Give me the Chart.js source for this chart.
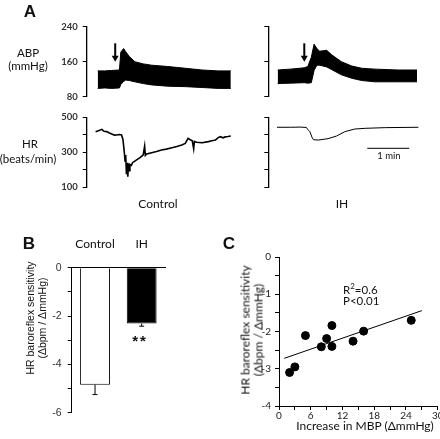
<!DOCTYPE html>
<html>
<head>
<meta charset="utf-8">
<script src="https://cdn.jsdelivr.net/npm/chart.js@4"></script>
<style>
html, body { margin: 0; padding: 0; width: 440px; height: 439px; overflow: hidden; background: #fff; }
body { position: relative; font-family: Lato, "Open Sans", sans-serif; color: #111; }
canvas { position: absolute; }
.t { position: absolute; white-space: nowrap; transform: translate(-50%, -50%); line-height: 1; font-size: 11.5px; }
.l { position: absolute; white-space: nowrap; transform: translateY(-50%); line-height: 1; font-size: 11.5px; }
.letter { font-family: "Liberation Sans", Arial, sans-serif; font-weight: bold; font-size: 17px; }
.rot { transform: translate(-50%, -50%) rotate(-90deg); text-align: center; }
</style>
</head>
<body>
<canvas id="abpCtrl" width="240" height="100" style="left:0;top:10px"></canvas>
<canvas id="abpIh" width="190" height="100" style="left:250px;top:10px"></canvas>
<canvas id="hrCtrl" width="240" height="95" style="left:0;top:105px"></canvas>
<canvas id="hrIh" width="190" height="95" style="left:250px;top:105px"></canvas>
<canvas id="barChart" width="175" height="195" style="left:0;top:230px"></canvas>
<canvas id="scatterChart" width="230" height="190" style="left:230px;top:240px"></canvas>

<div class="t letter" style="left:30px;top:11px">A</div>
<div class="t" style="left:28px;top:53px">ABP</div>
<div class="t" style="left:28px;top:66px">(mmHg)</div>
<div class="t" style="left:30px;top:144px">HR</div>
<div class="t" style="left:28px;top:159px">(beats/min)</div>
<div class="t" style="left:158px;top:204px;font-size:12px">Control</div>
<div class="t" style="left:342px;top:204px;font-size:12px">IH</div>
<div class="t" style="left:389px;top:156px;font-size:9.5px">1 min</div>

<div class="t letter" style="left:29px;top:243px">B</div>
<div class="t rot" style="left:36px;top:318px;font-family:'Liberation Sans',Arial,sans-serif;font-size:10.5px;line-height:12px">HR baroreflex sensitivity<br>(Δbpm / ΔmmHg)</div>
<div class="t" style="left:140px;top:340px;font-family:'Liberation Sans',Arial,sans-serif;font-weight:bold;font-size:15px;letter-spacing:2px">**</div>

<div class="t letter" style="left:229px;top:243px">C</div>
<div class="t rot" style="left:252px;top:330px;font-size:12px;line-height:12.5px">HR baroreflex sensitivity<br>(Δbpm / ΔmmHg)</div>
<div class="t" style="left:365px;top:426px;font-size:12px">Increase in MBP (ΔmmHg)</div>
<div class="l" style="left:343px;top:289px">R<sup style="font-size:8px">2</sup>=0.6</div>
<div class="l" style="left:343px;top:301px">P&lt;0.01</div>

<script>
// ---- Panel A: ABP envelopes (mmHg) vs time (s) ----
const abpCtrlTime = [0, 10, 20, 31, 33, 37, 40, 45, 53, 65, 77, 100, 125, 149, 172, 190];
const abpCtrlUpper = [139, 139, 140, 141, 182, 190, 183, 172, 160, 155, 152, 149, 145, 141, 139, 139];
const abpCtrlLower = [99, 100, 99, 100, 108, 115, 118, 117, 114, 110, 107, 104, 103, 101, 99, 99];

const abpIhTime = [0, 18, 38, 43, 48, 52, 56, 60, 70, 77, 91, 106, 120, 139, 172, 199];
const abpIhUpper = [141, 143, 146, 149, 170, 200, 190, 184, 186, 176, 160, 150, 145, 143, 141, 141];
const abpIhLower = [110, 111, 112, 111, 112, 140, 152, 152, 148, 142, 130, 122, 117, 114, 114, 114];

// ---- Panel A: HR traces (beats/min) vs time (s) ----
const hrCtrlTime = [-3, 2, 6, 9, 13, 16, 20, 24, 27, 31, 34, 36, 38, 39, 40, 41, 42, 43, 44, 45,
    46, 48, 50, 53, 56, 60, 65, 67, 68, 70, 77, 84, 91, 98, 106, 113, 120, 125, 129, 132,
    135, 137, 138, 141, 149, 158, 163, 168, 172, 175, 179, 182, 186, 190];
const hrCtrlBpm = [418, 425, 431, 420, 418, 412, 405, 398, 399, 402, 399, 375, 300, 250, 285, 175, 240, 161, 235, 195,
    230, 225, 242, 250, 258, 268, 285, 335, 282, 290, 298, 305, 313, 318, 326, 333, 342, 351, 380, 372,
    366, 320, 362, 357, 355, 361, 366, 370, 384, 389, 383, 388, 390, 393];

const hrIhTime = [-1, 18, 32, 41, 43, 46, 49, 51, 58, 72, 84, 96, 110, 125, 154, 201];
const hrIhBpm = [443, 443, 444, 442, 430, 418, 386, 372, 370, 378, 393, 418, 433, 437, 441, 443];

// injection arrows [time, from mmHg, to mmHg]
const arrowCtrl = [25, 202, 160];
const arrowIh = [38, 202, 160];
// 1 min scale bar [start s, end s, bpm level]
const scaleBar = [128, 188, 323];

const abpTicks = [80, 160, 240];
const hrTicks = [100, 200, 300, 400, 500];
const hrLabelled = [100, 300, 500];

// ---- Panel B ----
const groups = ["Control", "IH"];
const bsMean = [-4.84, -2.31];
const bsSem = [0.41, 0.11];

// ---- Panel C ----
const mbpIncrease = [2, 3, 5, 8, 9, 10, 10, 14, 16, 25];
const bsIndividual = [-3.10, -2.95, -2.11, -2.41, -2.19, -1.84, -2.40, -2.26, -1.99, -1.70];
const fitX = [1, 27];
const fitY = [-2.72, -1.44];

const pts = (xs, ys) => xs.map((x, i) => ({ x: x, y: ys[i] }));
const tickFont = { family: "Lato", size: 9.5, weight: "bold" };

const arrowPlugin = {
    id: "arrowMark",
    afterDatasetsDraw(chart, args, opts) {
        if (!opts || !opts.at) return;
        const c = chart.ctx;
        const px = chart.scales.x.getPixelForValue(opts.at[0]);
        const y0 = chart.scales.y.getPixelForValue(opts.at[1]);
        const y1 = chart.scales.y.getPixelForValue(opts.at[2]);
        c.save();
        c.strokeStyle = "#000";
        c.fillStyle = "#000";
        c.lineWidth = 2;
        c.beginPath();
        c.moveTo(px, y0);
        c.lineTo(px, y1 - 5);
        c.stroke();
        c.beginPath();
        c.moveTo(px - 3.5, y1 - 6);
        c.lineTo(px + 3.5, y1 - 6);
        c.lineTo(px, y1);
        c.closePath();
        c.fill();
        c.restore();
    }
};

// one trace panel with a fixed plot area
function traceChart(id, datasets, o) {
    return new Chart(document.getElementById(id), {
        type: "line",
        data: { datasets: datasets },
        plugins: [arrowPlugin],
        options: {
            responsive: false,
            animation: false,
            devicePixelRatio: 1,
            layout: { padding: o.pad },
            elements: { point: { radius: 0 }, line: { tension: 0 } },
            plugins: { legend: { display: false }, tooltip: { enabled: false }, arrowMark: { at: o.arrow } },
            scales: {
                x: { type: "linear", display: false, min: o.xMin, max: o.xMax },
                y: {
                    min: o.yMin,
                    max: o.yMax,
                    afterFit: (s) => { s.width = o.yWidth; },
                    afterBuildTicks: (s) => { s.ticks = o.ticks.map((v) => ({ value: v })); },
                    grid: { drawOnChartArea: false, tickLength: 4, color: "#000", lineWidth: 1 },
                    border: { display: true, color: "#000", width: 1.3 },
                    ticks: {
                        font: tickFont,
                        color: "#333",
                        padding: 5,
                        callback: (v) => (o.labels && o.labels.includes(v) ? String(v) : "")
                    }
                }
            }
        }
    });
}

const band = (time, upper, lower) => [
    { data: pts(time, upper), borderColor: "#000", borderWidth: 1, fill: false },
    { data: pts(time, lower), borderColor: "#000", borderWidth: 1, backgroundColor: "#000", fill: "-1" }
];

traceChart("abpCtrl", band(abpCtrlTime, abpCtrlUpper, abpCtrlLower), {
    pad: { left: 0, top: 16.7, right: 5, bottom: 13.3 }, yWidth: 86.7,
    xMin: -15.7, xMax: 196, yMin: 80, yMax: 240, ticks: abpTicks, labels: abpTicks, arrow: arrowCtrl
});
traceChart("abpIh", band(abpIhTime, abpIhUpper, abpIhLower), {
    pad: { left: 0, top: 16.7, right: 15, bottom: 13.3 }, yWidth: 18.3,
    xMin: -13.4, xMax: 210.4, yMin: 80, yMax: 240, ticks: abpTicks, labels: null, arrow: arrowIh
});
traceChart("hrCtrl", [
    { data: pts(hrCtrlTime, hrCtrlBpm), borderColor: "#000", borderWidth: 1.6, fill: false }
], {
    pad: { left: 0, top: 12.3, right: 5, bottom: 12.7 }, yWidth: 86.7,
    xMin: -15.7, xMax: 196, yMin: 100, yMax: 500, ticks: hrTicks, labels: hrLabelled
});
traceChart("hrIh", [
    { data: pts(hrIhTime, hrIhBpm), borderColor: "#000", borderWidth: 1, fill: false },
    { data: [{ x: scaleBar[0], y: scaleBar[2] }, { x: scaleBar[1], y: scaleBar[2] }], borderColor: "#333", borderWidth: 1.2, fill: false }
], {
    pad: { left: 0, top: 12.3, right: 15, bottom: 12.7 }, yWidth: 18.3,
    xMin: -13.4, xMax: 210.4, yMin: 100, yMax: 500, ticks: hrTicks, labels: null
});

// Panel B: bars with SEM (downwards)
const errorBars = {
    id: "errorBars",
    afterDatasetsDraw(chart) {
        const meta = chart.getDatasetMeta(0);
        const ys = chart.scales.y;
        const c = chart.ctx;
        c.save();
        c.strokeStyle = "#000";
        c.lineWidth = 1;
        meta.data.forEach((bar, i) => {
            const yStart = ys.getPixelForValue(bsMean[i]);
            const yEnd = ys.getPixelForValue(bsMean[i] - bsSem[i]);
            c.beginPath();
            c.moveTo(bar.x, yStart);
            c.lineTo(bar.x, yEnd);
            c.moveTo(bar.x - 2.5, yEnd);
            c.lineTo(bar.x + 2.5, yEnd);
            c.stroke();
        });
        c.restore();
    }
};

new Chart(document.getElementById("barChart"), {
    type: "bar",
    data: {
        labels: groups,
        datasets: [{
            data: bsMean,
            backgroundColor: ["#fff", "#000"],
            borderColor: "#000",
            borderWidth: 1,
            barPercentage: 0.64,
            categoryPercentage: 1
        }]
    },
    plugins: [errorBars],
    options: {
        responsive: false,
        animation: false,
        devicePixelRatio: 1,
        layout: { padding: { left: 0, top: 7.7, right: 10, bottom: 11.7 } },
        plugins: { legend: { display: false }, tooltip: { enabled: false } },
        scales: {
            x: {
                position: "top",
                afterFit: (s) => { s.height = 30; },
                grid: { display: false, drawTicks: false },
                border: { display: true, color: "#000", width: 1 },
                ticks: { font: { family: "Lato", size: 12 }, color: "#111", padding: 16 }
            },
            y: {
                min: -6,
                max: 0,
                afterFit: (s) => { s.width = 71.7; },
                afterBuildTicks: (s) => { s.ticks = [-6, -5, -4, -3, -2, -1, 0].map((v) => ({ value: v })); },
                grid: { drawOnChartArea: false, tickLength: 4, color: "#000" },
                border: { display: true, color: "#000", width: 1 },
                ticks: {
                    font: { family: "Liberation Sans", size: 10.5 },
                    color: "#333",
                    padding: 6,
                    callback: (v) => (v % 2 === 0 ? String(v) : "")
                }
            }
        }
    }
});

// Panel C: scatter with regression line
new Chart(document.getElementById("scatterChart"), {
    type: "scatter",
    data: {
        datasets: [
            { data: pts(mbpIncrease, bsIndividual), pointRadius: 4, backgroundColor: "#000", borderColor: "#000" },
            { data: pts(fitX, fitY), showLine: true, pointRadius: 0, borderColor: "#000", borderWidth: 1 }
        ]
    },
    options: {
        responsive: false,
        animation: false,
        devicePixelRatio: 1,
        layout: { padding: { left: 0, top: 17, right: 22.3, bottom: 4 } },
        plugins: { legend: { display: false }, tooltip: { enabled: false } },
        scales: {
            x: {
                type: "linear",
                min: 0,
                max: 30,
                afterFit: (s) => { s.height = 20; },
                afterBuildTicks: (s) => { s.ticks = [0, 3, 6, 9, 12, 15, 18, 21, 24, 27, 30].map((v) => ({ value: v })); },
                grid: { drawOnChartArea: false, tickLength: 4, color: "#000" },
                border: { display: true, color: "#000", width: 1 },
                ticks: {
                    font: { family: "Lato", size: 10 },
                    color: "#222",
                    padding: 0,
                    maxRotation: 0,
                    autoSkip: false,
                    callback: (v) => (v % 6 === 0 ? String(v) : "")
                }
            },
            y: {
                min: -4,
                max: 0,
                afterFit: (s) => { s.width = 49; },
                afterBuildTicks: (s) => { s.ticks = [-4, -3.5, -3, -2.5, -2, -1.5, -1, -0.5, 0].map((v) => ({ value: v })); },
                grid: { drawOnChartArea: false, tickLength: 4, color: "#000" },
                border: { display: true, color: "#000", width: 1 },
                ticks: {
                    font: { family: "Lato", size: 10 },
                    color: "#222",
                    padding: 4,
                    callback: (v) => (Number.isInteger(v) ? String(v) : "")
                }
            }
        }
    }
});
</script>
</body>
</html>
